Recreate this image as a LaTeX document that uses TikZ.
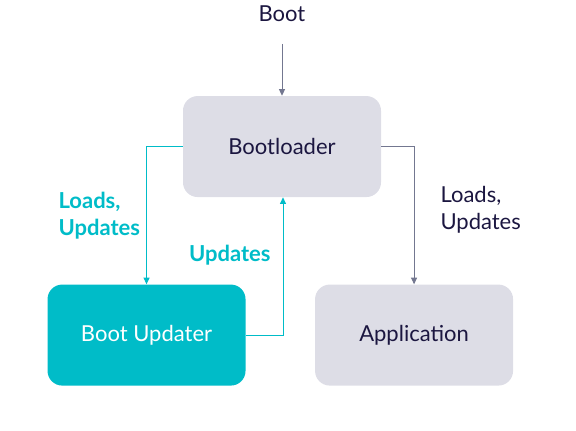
\documentclass[tikz,border=0pt]{standalone}
\usepackage{fontspec}
\setmainfont{Lato}
\usetikzlibrary{arrows.meta,positioning}

\definecolor{navy}{HTML}{1B1640}
\definecolor{boxgrey}{HTML}{DDDDE6}
\definecolor{linegrey}{HTML}{737790}
\definecolor{teal}{HTML}{00BCC8}

\begin{document}
\begin{tikzpicture}[
    every node/.style={font=\fontsize{16.5}{20.25}\selectfont, text=navy},
    stage/.style={rounded corners=11pt, align=center, minimum width=148.5pt, minimum height=75.75pt, fill=boxgrey},
    updater/.style={stage, fill=teal, text=white},
    label/.style={align=left, inner sep=0pt},
    tlabel/.style={label, text=teal, font=\fontsize{16.5}{20.25}\selectfont\bfseries},
    arrow/.style={-{Triangle[length=5pt,width=4.5pt]}, line width=0.75pt, draw=linegrey},
    tarrow/.style={arrow, draw=teal}
]
\useasboundingbox (0,0) rectangle (432pt,-322.5pt);

\node[stage] (bootloader) at (211.5pt,-109.9pt) {Bootloader};
\node[above=55pt of bootloader, inner sep=0pt] (boot) {Boot};
\node[updater, below=65.25pt of bootloader, xshift=-101.6pt] (bootupd) {Boot Updater};
\node[stage, right=51.75pt of bootupd] (app) {Application};

\draw[arrow, shorten <=16pt] (boot) -- (bootloader);
\draw[tarrow] (bootloader.west) -| node[tlabel, pos=0.75, left=4.5pt] {Loads,\\Updates} (bootupd.north);
\draw[tarrow] (bootupd.east) -| node[tlabel, pos=0.79, left=9pt] {Updates} ([xshift=0.75pt]bootloader.south);
\draw[arrow] (bootloader.east) -| node[label, pos=0.73, right=19.5pt] {Loads,\\Updates} (app.north);
\end{tikzpicture}
\end{document}
